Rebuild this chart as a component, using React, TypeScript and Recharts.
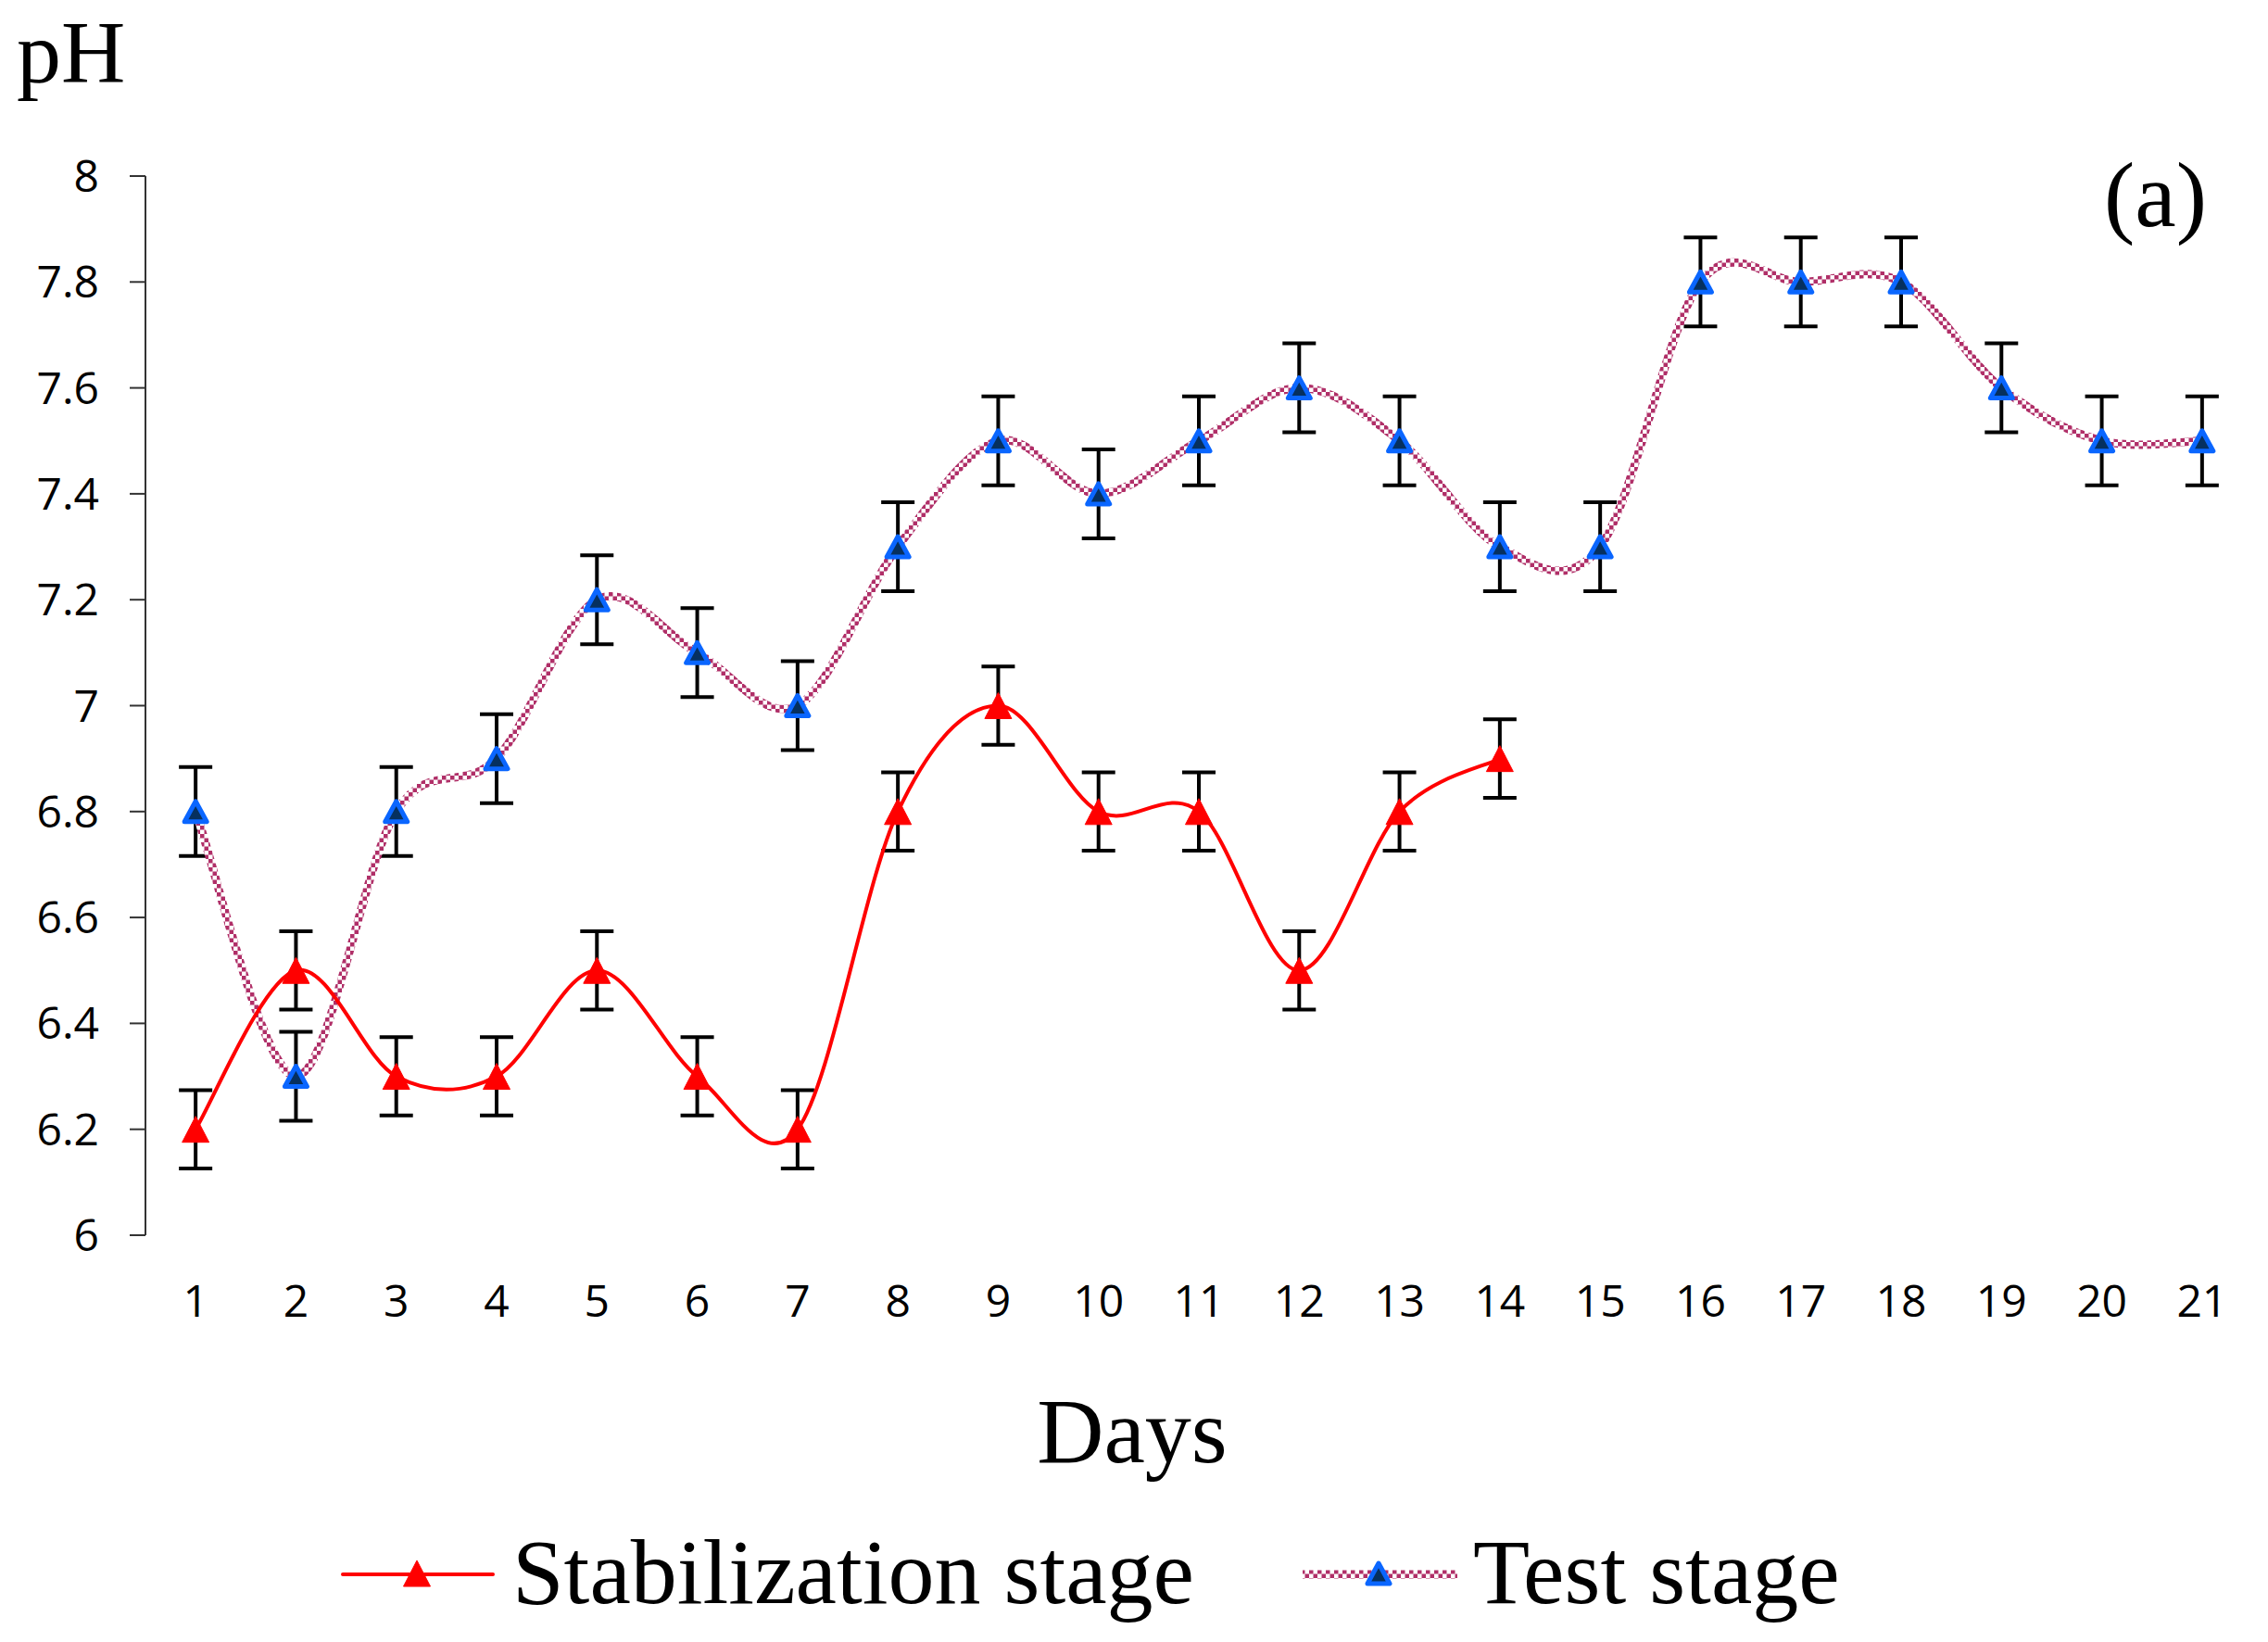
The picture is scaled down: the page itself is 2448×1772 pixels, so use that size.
import React from 'react';
import { LineChart, Line, XAxis, YAxis, ErrorBar, Legend } from 'recharts';

// ---- data ----
const days = [1, 2, 3, 4, 5, 6, 7, 8, 9, 10, 11, 12, 13, 14, 15, 16, 17, 18, 19, 20, 21];
const stabilizationPH = [6.2, 6.5, 6.3, 6.3, 6.5, 6.3, 6.2, 6.8, 7.0, 6.8, 6.8, 6.5, 6.8, 6.9];
const stabilizationErr = [0.074, 0.074, 0.074, 0.074, 0.074, 0.074, 0.074, 0.074, 0.074, 0.074, 0.074, 0.074, 0.074, 0.074];
const testPH = [6.8, 6.3, 6.8, 6.9, 7.2, 7.1, 7.0, 7.3, 7.5, 7.4, 7.5, 7.6, 7.5, 7.3, 7.3, 7.8, 7.8, 7.8, 7.6, 7.5, 7.5];
const testErr = [0.084, 0.084, 0.084, 0.084, 0.084, 0.084, 0.084, 0.084, 0.084, 0.084, 0.084, 0.084, 0.084, 0.084, 0.084, 0.084, 0.084, 0.084, 0.084, 0.084, 0.084];
const yTicks = [6, 6.2, 6.4, 6.6, 6.8, 7, 7.2, 7.4, 7.6, 7.8, 8];
const xBoundaryTicks = [0.5, 1.5, 2.5, 3.5, 4.5, 5.5, 6.5, 7.5, 8.5, 9.5, 10.5, 11.5, 12.5, 13.5, 14.5, 15.5, 16.5, 17.5, 18.5, 19.5, 20.5, 21.5];
const seriesNames = ['Stabilization stage', 'Test stage'];

const stabilizationData = stabilizationPH.map((v, i) => ({ day: days[i], v, e: stabilizationErr[i] }));
const testData = testPH.map((v, i) => ({ day: days[i], v, e: testErr[i] }));

// ---- styles ----
const SERIF = '"Liberation Serif", "Times New Roman", serif';
const TICK_FONT = '"Open Sans", "DejaVu Sans", sans-serif';
const RED = '#FF0000';
const MAROON = '#B02F68';
const BLUE_EDGE = '#0A66FF';
const NAVY = '#06305F';
const AXIS = '#333333';

// Excel-like smoothing (Catmull-Rom as cubic Bezier)
const excelCurve: any = (context: any) => {
  let pts: number[][] = [];
  return {
    areaStart() {},
    areaEnd() {},
    lineStart() {
      pts = [];
    },
    point(x: number, y: number) {
      pts.push([+x, +y]);
    },
    lineEnd() {
      const n = pts.length;
      if (!n) return;
      context.moveTo(pts[0][0], pts[0][1]);
      for (let i = 0; i < n - 1; i++) {
        const p0 = pts[i - 1] || pts[i];
        const p1 = pts[i];
        const p2 = pts[i + 1];
        const p3 = pts[i + 2] || p2;
        context.bezierCurveTo(
          p1[0] + (p2[0] - p0[0]) / 6,
          p1[1] + (p2[1] - p0[1]) / 6,
          p2[0] - (p3[0] - p1[0]) / 6,
          p2[1] - (p3[1] - p1[1]) / 6,
          p2[0],
          p2[1]
        );
      }
    },
  };
};

const Tri = (props: any) => {
  const { cx, cy, fill, stroke, sw, w, h } = props;
  if (cx == null || cy == null || isNaN(cx) || isNaN(cy)) return null;
  const pts = `${cx},${cy - h / 2} ${cx + w / 2},${cy + h / 2} ${cx - w / 2},${cy + h / 2}`;
  return (
    <polygon
      points={pts}
      fill={fill}
      stroke={stroke}
      strokeWidth={sw}
      strokeLinejoin="round"
    />
  );
};

const renderLegend = () => (
  <svg width={2448} height={130} style={{ display: 'block', overflow: 'visible' }}>
    <defs>
      <pattern id="chk" patternUnits="userSpaceOnUse" x={0} y={0} width={9} height={9}>
        <rect x={0} y={0} width={9} height={9} fill="#FFFFFF" />
        <rect x={0} y={0} width={4.5} height={4.5} fill={MAROON} />
        <rect x={4.5} y={4.5} width={4.5} height={4.5} fill={MAROON} />
      </pattern>
    </defs>
    <line x1={370} x2={532} y1={59} y2={59} stroke={RED} strokeWidth={4} strokeLinecap="round" />
    <Tri cx={450} cy={58} w={29} h={28} fill={RED} stroke={RED} sw={1} />
    <text x={553} y={90} fontFamily={SERIF} fontSize={100} fill="#000">
      {seriesNames[0]}
    </text>
    <line x1={1406} x2={1573} y1={59} y2={59} stroke="url(#chk)" strokeWidth={9} />
    <Tri cx={1488} cy={58} w={24} h={22} fill={NAVY} stroke={BLUE_EDGE} sw={5} />
    <text x={1590} y={90} fontFamily={SERIF} fontSize={100} fill="#000">
      {seriesNames[1]}
    </text>
  </svg>
);

export default function App() {
  return (
    <div style={{ position: 'absolute', left: 0, top: 0, width: 2448, height: 1772, background: '#fff' }}>
      <LineChart
        width={2448}
        height={1772}
        margin={{ top: 190, right: 17, left: 0, bottom: 59 }}
      >
        <XAxis
          xAxisId="grid"
          type="number"
          dataKey="day"
          domain={[0.5, 21.5]}
          ticks={xBoundaryTicks}
          interval={0}
          height={0}
          tick={false}
          tickSize={17}
          tickLine={{ stroke: AXIS, strokeWidth: 2 }}
          axisLine={{ stroke: AXIS, strokeWidth: 2 }}
          allowDataOverflow
        />
        <XAxis
          xAxisId="lab"
          type="number"
          dataKey="day"
          domain={[0.5, 21.5]}
          ticks={days}
          interval={0}
          height={250}
          tickLine={false}
          axisLine={false}
          tickSize={0}
          tickMargin={54}
          tick={{ fontFamily: TICK_FONT, fontSize: 48, fill: '#000' }}
          label={{ value: 'Days', position: 'insideBottom', offset: 5, dx: -72, fontFamily: SERIF, fontSize: 100, fill: '#000' }}
          allowDataOverflow
        />
        <YAxis
          type="number"
          domain={[6, 8]}
          ticks={yTicks}
          interval={0}
          width={157}
          tickSize={17}
          tickMargin={33}
          tickLine={{ stroke: AXIS, strokeWidth: 2 }}
          axisLine={{ stroke: AXIS, strokeWidth: 2 }}
          tick={{ fontFamily: TICK_FONT, fontSize: 48, fill: '#000' }}
          allowDataOverflow
        />
        <Legend
          verticalAlign="bottom"
          content={renderLegend}
          wrapperStyle={{ position: 'absolute', left: 0, top: 1640, bottom: 'auto', width: 2448, height: 130 }}
        />
        <Line
          xAxisId="lab"
          data={testData}
          dataKey="v"
          name={seriesNames[1]}
          type={excelCurve}
          stroke="url(#chk)"
          strokeWidth={9}
          dot={<Tri w={24} h={22} fill={NAVY} stroke={BLUE_EDGE} sw={5} />}
          activeDot={false}
          isAnimationActive={false}
        >
          <ErrorBar dataKey="e" direction="y" width={18} stroke="#000" strokeWidth={4} isAnimationActive={false} />
        </Line>
        <Line
          xAxisId="lab"
          data={stabilizationData}
          dataKey="v"
          name={seriesNames[0]}
          type={excelCurve}
          stroke={RED}
          strokeWidth={4}
          dot={<Tri w={29} h={28} fill={RED} stroke={RED} sw={1} />}
          activeDot={false}
          isAnimationActive={false}
        >
          <ErrorBar dataKey="e" direction="y" width={18} stroke="#000" strokeWidth={4} isAnimationActive={false} />
        </Line>
        <text x={18} y={89} fontFamily={SERIF} fontSize={96} fill="#000">pH</text>
        <text x={2382} y={244} textAnchor="end" fontFamily={SERIF} fontSize={100} fill="#000">(a)</text>
      </LineChart>
    </div>
  );
}
